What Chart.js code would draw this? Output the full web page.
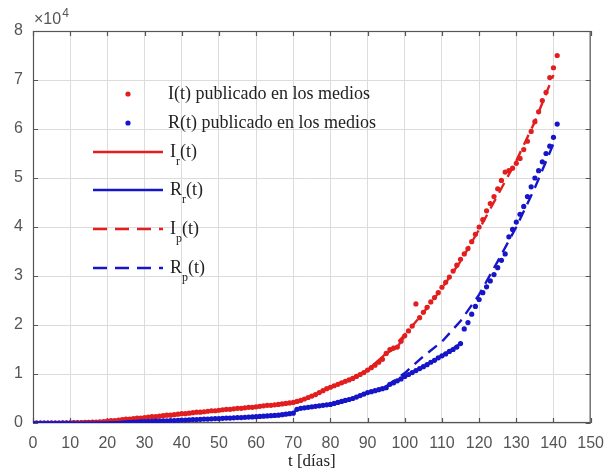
<!DOCTYPE html>
<html>
<head>
<meta charset="utf-8">
<script src="https://cdn.jsdelivr.net/npm/chart.js@4.4.1/dist/chart.umd.min.js"></script>
<style>
  body { margin: 0; background: #fff; }
  canvas { display: block; }
</style>
</head>
<body>
<canvas id="grafico" width="615" height="472"></canvas>
<script>
// published cases (units of 10^4), one value per day starting at t = 0
const infectadosPub = [
    0, 0, 0, 0, 0, 0, 0, 0, 0.005, 0.005,
    0.005, 0.01, 0.01, 0.01, 0.015, 0.015, 0.02, 0.02, 0.025, 0.03,
    0.04, 0.05, 0.05, 0.06, 0.07, 0.08, 0.08, 0.09, 0.10, 0.10,
    0.11, 0.12, 0.13, 0.13, 0.14, 0.15, 0.16, 0.16, 0.17, 0.18,
    0.19, 0.19, 0.20, 0.21, 0.22, 0.22, 0.23, 0.24, 0.25, 0.25,
    0.26, 0.27, 0.28, 0.28, 0.29, 0.30, 0.30, 0.31, 0.32, 0.32,
    0.33, 0.34, 0.35, 0.36, 0.36, 0.37, 0.38, 0.39, 0.40, 0.41,
    0.42, 0.44, 0.46, 0.49, 0.52, 0.55, 0.58, 0.62, 0.66, 0.70,
    0.73, 0.76, 0.79, 0.82, 0.85, 0.88, 0.91, 0.95, 0.99, 1.03,
    1.08, 1.13, 1.18, 1.24, 1.30, 1.42, 1.50, 1.53, 1.55, 1.67,
    1.78, 1.88, 1.98, 2.43, 2.15, 2.26, 2.36, 2.47, 2.56, 2.66,
    2.77, 2.87, 2.98, 3.10, 3.22, 3.34, 3.45, 3.56, 3.70, 3.85,
    4.00, 4.15, 4.33, 4.48, 4.62, 4.78, 4.95, 5.12, 5.15, 5.20,
    5.30, 5.40, 5.58, 5.75, 5.95, 6.15, 6.35, 6.58, 6.75, 7.05,
    7.25, 7.50
];
const recuperadosPub = [
    0, 0, 0, 0, 0, 0, 0, 0, 0, 0,
    0, 0, 0, 0, 0, 0.005, 0.005, 0.005, 0.01, 0.01,
    0.01, 0.01, 0.015, 0.015, 0.02, 0.02, 0.02, 0.025, 0.025, 0.03,
    0.03, 0.035, 0.035, 0.04, 0.04, 0.045, 0.045, 0.05, 0.05, 0.055,
    0.06, 0.06, 0.065, 0.07, 0.07, 0.075, 0.08, 0.08, 0.085, 0.09,
    0.09, 0.095, 0.10, 0.10, 0.105, 0.11, 0.11, 0.115, 0.12, 0.125,
    0.13, 0.135, 0.14, 0.145, 0.15, 0.155, 0.16, 0.17, 0.18, 0.19,
    0.20, 0.28, 0.30, 0.31, 0.32, 0.33, 0.34, 0.35, 0.36, 0.37,
    0.38, 0.40, 0.42, 0.44, 0.46, 0.48, 0.50, 0.53, 0.56, 0.59,
    0.62, 0.64, 0.66, 0.68, 0.70, 0.72, 0.79, 0.82, 0.86, 0.90,
    0.95, 0.99, 1.03, 1.07, 1.11, 1.15, 1.19, 1.24, 1.28, 1.33,
    1.37, 1.41, 1.46, 1.50, 1.55, 1.62, 1.92, 2.05, 2.22, 2.38,
    2.52, 2.66, 2.78, 2.90, 3.03, 3.17, 3.32, 3.45, 3.80, 3.95,
    4.10, 4.26, 4.42, 4.62, 4.82, 5.00, 5.15, 5.33, 5.50, 5.65,
    5.83, 6.10
];

// fitted curves I_r, R_r (days, values x10^4)
const diasIr = [0, 10, 20, 25, 30, 40, 50, 60, 65, 70, 73, 76, 80, 85, 90, 95, 98, 100];
const valIr  = [0, 0.005, 0.04, 0.08, 0.11, 0.19, 0.26, 0.33, 0.37, 0.42, 0.49, 0.58, 0.73, 0.88, 1.08, 1.42, 1.55, 1.78];
const diasRr = [0, 15, 20, 30, 40, 50, 60, 65, 70, 71, 75, 80, 85, 90, 95, 96, 100, 105, 110, 115];
const valRr  = [0, 0.005, 0.01, 0.03, 0.06, 0.09, 0.13, 0.155, 0.20, 0.28, 0.32, 0.38, 0.48, 0.62, 0.72, 0.79, 0.95, 1.15, 1.37, 1.62];

// predicted curves I_p, R_p
const diasPred = [95, 100, 105, 110, 115, 120, 125, 130, 135, 140];
const valIp = [1.40, 1.80, 2.25, 2.75, 3.30, 3.95, 4.65, 5.35, 6.15, 7.10];
const valRp = [0.75, 1.02, 1.36, 1.66, 2.08, 2.62, 3.30, 4.00, 4.80, 5.70];

const xTicks = [0, 10, 20, 30, 40, 50, 60, 70, 80, 90, 100, 110, 120, 130, 140, 150];
const yTicks = [0, 1, 2, 3, 4, 5, 6, 7, 8];

const ROJO = 'rgb(226, 30, 30)';
const AZUL = 'rgb(22, 22, 200)';
const EJE = '#555555';
const REJILLA = '#dcdcdc';

const pares = (xs, ys) => xs.map((d, i) => ({ x: d, y: ys[i] }));
const porDia = ys => ys.map((v, i) => ({ x: i, y: v }));

function puntos(label, data, color, order) {
    return { label, data, order, showLine: false, pointRadius: 2.6, pointBorderWidth: 0, backgroundColor: color, borderColor: color };
}
function curva(label, data, color, dash, order) {
    return { label, data, order, showLine: true, pointRadius: 0, borderWidth: 2.4, borderColor: color, borderDash: dash, backgroundColor: color, fill: false };
}

// box, inward ticks, exponent label and legend, MATLAB style
const marco = {
    id: 'marco',
    beforeDatasetsDraw(chart) {
        const { ctx, chartArea: a, scales: { x, y } } = chart;
        ctx.save();
        ctx.strokeStyle = EJE;
        ctx.lineWidth = 1.2;
        ctx.strokeRect(a.left + 0.5, a.top + 0.5, a.right - a.left - 1, a.bottom - a.top - 1);
        ctx.beginPath();
        xTicks.forEach(t => {
            const px = Math.round(x.getPixelForValue(t)) + 0.5;
            ctx.moveTo(px, a.bottom); ctx.lineTo(px, a.bottom - 5);
            ctx.moveTo(px, a.top); ctx.lineTo(px, a.top + 5);
        });
        yTicks.forEach(t => {
            const py = Math.round(y.getPixelForValue(t)) + 0.5;
            ctx.moveTo(a.left, py); ctx.lineTo(a.left + 5, py);
            ctx.moveTo(a.right, py); ctx.lineTo(a.right - 5, py);
        });
        ctx.stroke();
        ctx.restore();
    },
    afterDraw(chart) {
        const { ctx, chartArea: a } = chart;
        ctx.save();
        // x10^4 factor
        ctx.fillStyle = '#555';
        ctx.textBaseline = 'alphabetic';
        ctx.font = '16px "Liberation Sans"';
        ctx.fillText('\u00d710', a.left + 1, 24);
        const w = ctx.measureText('\u00d710').width;
        ctx.font = '12px "Liberation Sans"';
        ctx.fillText('4', a.left + 1 + w + 1, 17);

        // legend
        const items = [
            { tipo: 'punto', color: ROJO, y: 94, txt: 'I(t) publicado en los medios' },
            { tipo: 'punto', color: AZUL, y: 123, txt: 'R(t) publicado en los medios' },
            { tipo: 'linea', color: ROJO, y: 152, base: 'I', sub: 'r' },
            { tipo: 'linea', color: AZUL, y: 190, base: 'R', sub: 'r' },
            { tipo: 'guion', color: ROJO, y: 229, base: 'I', sub: 'p' },
            { tipo: 'guion', color: AZUL, y: 268, base: 'R', sub: 'p' }
        ];
        ctx.textBaseline = 'middle';
        items.forEach(it => {
            ctx.fillStyle = it.color;
            ctx.strokeStyle = it.color;
            if (it.tipo === 'punto') {
                ctx.beginPath();
                ctx.arc(128, it.y, 2.6, 0, Math.PI * 2);
                ctx.fill();
            } else {
                ctx.lineWidth = 2.4;
                ctx.setLineDash(it.tipo === 'guion' ? [14, 8] : []);
                ctx.beginPath();
                ctx.moveTo(93, it.y);
                ctx.lineTo(163, it.y);
                ctx.stroke();
                ctx.setLineDash([]);
            }
            ctx.fillStyle = '#222';
            ctx.font = '18px "Liberation Serif"';
            if (it.txt) {
                ctx.fillText(it.txt, 168, it.y);
            } else {
                let px = 170;
                ctx.fillText(it.base, px, it.y);
                px += ctx.measureText(it.base).width;
                ctx.font = '12px "Liberation Serif"';
                ctx.fillText(it.sub, px, it.y + 10);
                px += ctx.measureText(it.sub).width;
                ctx.font = '18px "Liberation Serif"';
                ctx.fillText('(t)', px, it.y);
            }
        });
        ctx.restore();
    }
};

new Chart(document.getElementById('grafico').getContext('2d'), {
    type: 'scatter',
    data: {
        datasets: [
            puntos('I(t) publicado en los medios', porDia(infectadosPub), ROJO, 5),
            puntos('R(t) publicado en los medios', porDia(recuperadosPub), AZUL, 4),
            curva('Ir(t)', pares(diasIr, valIr), ROJO, [], 3),
            curva('Rr(t)', pares(diasRr, valRr), AZUL, [], 2),
            curva('Ip(t)', pares(diasPred, valIp), ROJO, [11, 7], 1),
            curva('Rp(t)', pares(diasPred, valRp), AZUL, [11, 7], 0)
        ]
    },
    options: {
        responsive: false,
        animation: false,
        layout: { padding: { top: 31, right: 17, left: 0, bottom: 0 } },
        plugins: {
            legend: { display: false },
            tooltip: { enabled: false }
        },
        scales: {
            x: {
                type: 'linear',
                min: 0,
                max: 150,
                afterBuildTicks: s => { s.ticks = xTicks.map(v => ({ value: v })); },
                afterFit: s => { s.height = 49; },
                grid: { color: REJILLA, drawTicks: false },
                border: { display: false },
                ticks: {
                    color: '#555',
                    padding: 11,
                    maxRotation: 0,
                    autoSkip: false,
                    font: { family: 'Liberation Sans', size: 16 }
                },
                title: {
                    display: true,
                    text: 't [días]',
                    color: '#222',
                    padding: { top: 0, bottom: 0 },
                    font: { family: 'Liberation Serif', size: 17 }
                }
            },
            y: {
                min: 0,
                max: 8,
                afterBuildTicks: s => { s.ticks = yTicks.map(v => ({ value: v })); },
                afterFit: s => { s.width = 33; },
                grid: { color: REJILLA, drawTicks: false },
                border: { display: false },
                ticks: {
                    color: '#555',
                    padding: 10,
                    font: { family: 'Liberation Sans', size: 16 }
                }
            }
        }
    },
    plugins: [marco]
});
</script>
</body>
</html>
